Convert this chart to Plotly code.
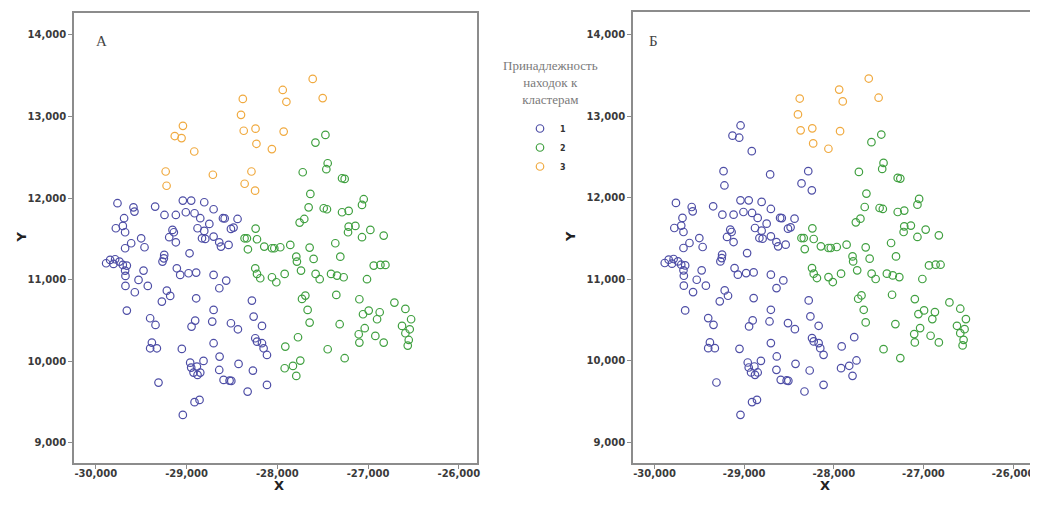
import plotly.graph_objects as go

# ---------------- data ----------------
# points that are cluster 3 in both panels
x_c3_both = [-27610, -27940, -27900, -27500, -28380, -28400, -28370, -28240, -27930, -28230, -28060]
y_c3_both = [13460, 13325, 13180, 13225, 13215, 13020, 12825, 12850, 12815, 12665, 12600]
# cluster 3 in A, cluster 1 in B
x_c3_to_c1 = [-29040, -29130, -29055, -28915, -29230, -29220, -28710, -28285, -28360, -28245]
y_c3_to_c1 = [12885, 12760, 12735, 12570, 12325, 12150, 12285, 12325, 12175, 12090]
# cluster 2 in both panels
x_c2_both = [
    -27470, -27580, -27445, -27460, -27720, -27287, -27258, -27636, -27048, -27067, -27655,
    -27489, -27453, -27287, -27214, -27703, -27754, -27214, -27140, -27221, -26975, -27067,
    -26828, -28239, -28361, -28335, -28224, -28324, -28144, -28059, -28033, -27967, -27857,
    -27361, -27644, -27600, -27791, -27784, -27739, -27306, -28243, -28224, -28188, -28059,
    -28011, -27919, -27578, -27533, -27408, -27342, -27269, -27012, -26864, -26809, -26938,
    -27691, -27728, -27350, -27666, -27644, -27313, -27096, -26710, -26589, -26526, -26626,
    -26541, -26589, -26552, -26563, -26828, -26920, -26872, -26901, -26993, -27056, -27037,
    -27103, -27096, -27258, -27445,
]
y_c2_both = [
    12774, 12680, 12426, 12353, 12316, 12242, 12234, 12050, 11985, 11915, 11886,
    11874, 11862, 11825, 11842, 11743, 11698, 11649, 11658, 11580, 11609, 11519,
    11539, 11625, 11506, 11506, 11494, 11371, 11404, 11384, 11384, 11396, 11425,
    11445, 11392, 11253, 11281, 11220, 11110, 11281, 11138, 11069, 11016, 11028,
    10967, 11069, 11069, 11004, 11069, 11048, 11028, 11004, 11179, 11179, 11171,
    10803, 10762, 10811, 10627, 10472, 10452, 10758, 10717, 10640, 10513, 10431,
    10390, 10341, 10259, 10190, 10227, 10309, 10599, 10513, 10619, 10574, 10403,
    10329, 10227, 10035, 10145,
]
# cluster 2 in A, cluster 1 in B
x_c2_to_c1 = [-27772, -27912, -27747, -27828, -27919, -27791]
y_c2_to_c1 = [10292, 10178, 10006, 9941, 9912, 9818]
# cluster 1 in both panels
x_c1_both = [
    -29761, -29585, -29574, -29346, -29041, -28949, -28805, -28702, -29243, -29118, -29008,
    -28912, -28849, -28749, -28599, -28580, -28438, -28482, -28511, -29688, -29702, -29779,
    -29677, -29155, -29140, -29191, -28879, -28805, -28830, -28794, -28702, -28640, -28537,
    -28621, -29118, -29500, -29610, -29463, -29677, -28967, -29246, -29265, -29250, -29886,
    -29842, -29787, -29739, -29702, -29658, -29805, -29677, -29673, -29474, -29529, -29427,
    -29673, -29570, -29658, -29107, -29070, -28978, -28894, -28702, -28563, -28639, -29217,
    -29180, -29272, -28894, -28280, -28702, -28261, -29401, -29342, -28905, -28945, -28717,
    -28511, -28434, -28169, -29382, -29401, -29327, -29052, -28702, -28243, -28224, -28169,
    -28151, -28114, -28636, -28427, -28813, -28960, -28949, -28886, -28923, -28879, -28849,
    -28640, -28269, -28592, -28526, -28507, -29309, -28114, -28327, -28857, -28912, -29041,
]
y_c1_both = [
    11936, 11886, 11833, 11895, 11968, 11968, 11948, 11862, 11792, 11792, 11825,
    11813, 11752, 11682, 11752, 11750, 11743, 11637, 11621, 11752, 11658, 11629,
    11580, 11609, 11580, 11519, 11629, 11596, 11506, 11498, 11527, 11457, 11425,
    11404, 11457, 11506, 11445, 11396, 11384, 11322, 11302, 11220, 11260, 11200,
    11241, 11249, 11220, 11179, 11171, 11192, 11110, 11044, 11110, 10995, 10922,
    10922, 10844, 10619, 11138, 11057, 11077, 11085, 11057, 10987, 10893, 10864,
    10799, 10730, 10770, 10742, 10627, 10546, 10525, 10443, 10497, 10423, 10484,
    10464, 10390, 10431, 10227, 10157, 10157, 10149, 10219, 10280, 10239, 10219,
    10157, 10075, 10055, 9965, 10002, 9981, 9920, 9932, 9859, 9830, 9859,
    9891, 9883, 9769, 9761, 9757, 9736, 9708, 9626, 9524, 9496, 9340,
]

cluster_names = ["1", "2", "3"]
cluster_colors = {1: "#4e4ea6", 2: "#40a040", 3: "#f0aa40"}

x_tick_vals = [-30000, -29000, -28000, -27000, -26000]
x_tick_text = ["-30,000", "-29,000", "-28,000", "-27,000", "-26,000"]
y_tick_vals = [9000, 10000, 11000, 12000, 13000, 14000]
y_tick_text = ["9,000", "10,000", "11,000", "12,000", "13,000", "14,000"]

legend_title = "Принадлежность<br>находок к<br>кластерам"
panel_labels = ["А", "Б"]

# cluster membership per panel
panel_a = {
    1: (x_c1_both, y_c1_both),
    2: (x_c2_both + x_c2_to_c1, y_c2_both + y_c2_to_c1),
    3: (x_c3_both + x_c3_to_c1, y_c3_both + y_c3_to_c1),
}
panel_b = {
    1: (x_c1_both + x_c3_to_c1 + x_c2_to_c1, y_c1_both + y_c3_to_c1 + y_c2_to_c1),
    2: (x_c2_both, y_c2_both),
    3: (x_c3_both, y_c3_both),
}

# ---------------- figure ----------------
# page body has an 8px margin; work in reference pixel coords minus 8
W, H = 1030, 500
OFF = 8


def px(rx):
    return (rx - OFF) / W


def py(ry):
    return 1 - (ry - OFF) / H


fig = go.Figure()

for panel, groups in enumerate([panel_a, panel_b]):
    xa = "x" if panel == 0 else "x2"
    ya = "y" if panel == 0 else "y2"
    for c in [1, 2, 3]:
        xs, ys = groups[c]
        fig.add_trace(go.Scatter(
            x=xs, y=ys, mode="markers", xaxis=xa, yaxis=ya,
            name=cluster_names[c - 1], legendgroup=str(c), showlegend=(panel == 0),
            marker=dict(symbol="circle-open", size=7.5, color=cluster_colors[c],
                        line=dict(width=1.2, color=cluster_colors[c])),
            hoverinfo="x+y",
        ))

frame_color = "#8c8c8c"
tick_font = dict(family="DejaVu Sans", size=10, color="#3a3a3a", weight="bold")
x_range = [-30240, -25800]
y_range = [8750, 14275]

axis_common = dict(showline=True, mirror=True, linecolor=frame_color, linewidth=1.6,
                   showgrid=False, zeroline=False, ticks="outside", ticklen=4,
                   tickwidth=1.4, tickcolor=frame_color, tickfont=tick_font,
                   automargin=False)

fig.update_layout(
    width=W, height=H,
    margin=dict(l=0, r=0, t=0, b=0, autoexpand=False),
    paper_bgcolor="white", plot_bgcolor="white",
    xaxis=dict(domain=[px(74), px(477)], range=x_range, tickvals=x_tick_vals,
               ticktext=x_tick_text, anchor="y", ticklabelstandoff=-4, **axis_common),
    yaxis=dict(domain=[py(463), py(12.5)], range=y_range, tickvals=y_tick_vals,
               ticktext=y_tick_text, anchor="x", **axis_common),
    xaxis2=dict(domain=[px(633), px(1031)], range=x_range, tickvals=x_tick_vals,
                ticktext=x_tick_text, anchor="y2", ticklabelstandoff=-4, **axis_common),
    yaxis2=dict(domain=[py(463), py(12)], range=y_range, tickvals=y_tick_vals,
                ticktext=y_tick_text, anchor="x2", **axis_common),
    showlegend=True,
    legend=dict(x=px(520), y=py(114), xanchor="left", yanchor="top",
                bgcolor="rgba(0,0,0,0)", borderwidth=0, tracegroupgap=0,
                font=dict(family="DejaVu Sans", size=8, color="#333333", weight="bold"),
                itemwidth=30),
)

annotations = [
    dict(text=legend_title, x=px(550), y=py(82), xref="paper", yref="paper",
         showarrow=False, font=dict(family="Liberation Serif", size=13, color="#7a7a7a"),
         align="center", xanchor="center", yanchor="middle"),
    dict(text=panel_labels[0], x=px(94), y=py(31), xref="paper", yref="paper",
         showarrow=False, font=dict(family="Liberation Serif", size=15, color="#444444")),
    dict(text=panel_labels[1], x=px(653), y=py(31), xref="paper", yref="paper",
         showarrow=False, font=dict(family="Liberation Serif", size=15, color="#444444")),
    dict(text="<b>X</b>", x=px(272), y=py(495), xref="paper", yref="paper",
         showarrow=False, font=dict(family="DejaVu Sans", size=13, color="#222222")),
    dict(text="<b>X</b>", x=px(832), y=py(495), xref="paper", yref="paper",
         showarrow=False, font=dict(family="DejaVu Sans", size=13, color="#222222")),
    dict(text="<b>Y</b>", x=px(12), y=py(237), xref="paper", yref="paper", textangle=-90,
         showarrow=False, font=dict(family="DejaVu Sans", size=13, color="#222222")),
    dict(text="<b>Y</b>", x=px(571), y=py(237), xref="paper", yref="paper", textangle=-90,
         showarrow=False, font=dict(family="DejaVu Sans", size=13, color="#222222")),
]
fig.update_layout(annotations=annotations)

fig.add_shape(type="rect", xref="paper", yref="paper", x0=px(1032), x1=1, y0=0, y1=1,
              fillcolor="#cfcfcf", line=dict(width=0), layer="below")

fig.write_html("out.html")
